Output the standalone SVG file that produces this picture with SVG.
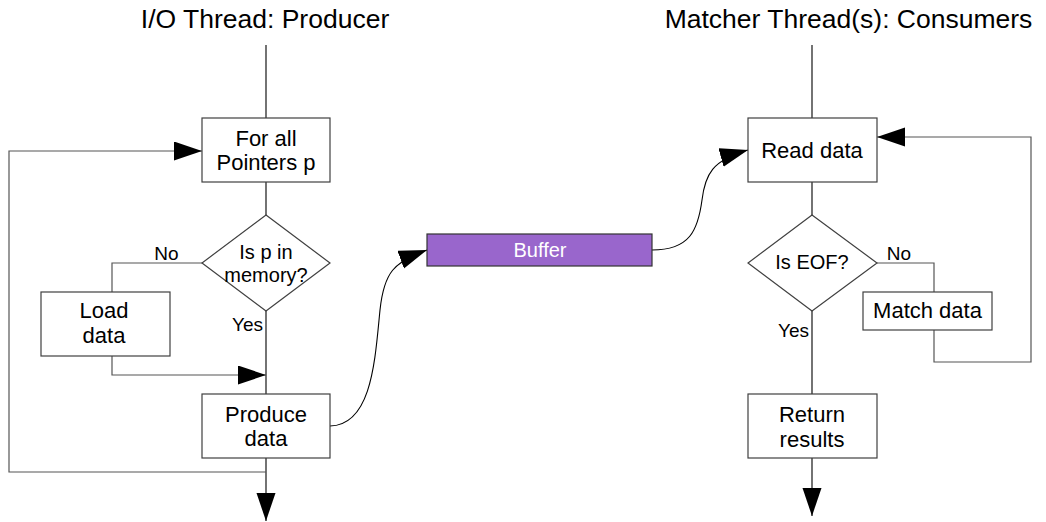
<svg xmlns="http://www.w3.org/2000/svg" width="1046" height="522" viewBox="0 0 1046 522">
<style>
text{font-family:"Liberation Sans",Arial,sans-serif;fill:#000;text-anchor:middle}
.title{font-size:26.5px}
.t{font-size:22px}
.d{font-size:20px}
.lbl{font-size:19px}
.box{fill:#fff;stroke:#404040;stroke-width:1.2}
.buf{fill:#9966cc;stroke:#333;stroke-width:1.2}
.ln{fill:none;stroke:#000;stroke-width:1.1}
.lg{fill:none;stroke:#555;stroke-width:1.2}
</style>
<defs>
<marker id="ah" markerUnits="userSpaceOnUse" markerWidth="30" markerHeight="20" refX="28" refY="9.5" orient="auto">
<path d="M0,0 L28,9.5 L0,19 z" fill="#000"/>
</marker>
</defs>
<rect width="1046" height="522" fill="#fff"/>
<text class="title" x="265" y="28">I/O Thread: Producer</text>
<text class="title" x="848.5" y="28">Matcher Thread(s): Consumers</text>
<g id="connectors">
<path class="ln" d="M266,45 V118"/>
<path class="ln" d="M266,182 V215"/>
<path class="ln" d="M266,311 V394"/>
<path class="ln" d="M266,458 V521" marker-end="url(#ah)"/>
<path class="lg" d="M202,263 H112 V292"/>
<path class="lg" d="M112,356 V375 H266" marker-end="url(#ah)"/>
<path class="lg" d="M266,472 H9 V151 H202" marker-end="url(#ah)"/>
<path class="ln" d="M330,426 C372,425 375,360 380,310 C384,272 394,262 427,250" marker-end="url(#ah)"/>
<path class="ln" d="M652,250 C690,250 698,230 702,200 C705,175 712,160 748,150" marker-end="url(#ah)"/>
<path class="ln" d="M812,45 V118"/>
<path class="ln" d="M812,182 V215"/>
<path class="ln" d="M812,311 V394"/>
<path class="ln" d="M812,458 V516" marker-end="url(#ah)"/>
<path class="lg" d="M877,263 H934 V292"/>
<path class="lg" d="M934,330 V362 H1031 V137 H877" marker-end="url(#ah)"/>
<text class="lbl" x="166.5" y="260">No</text>
<text class="lbl" x="247.5" y="331">Yes</text>
<text class="lbl" x="899" y="260">No</text>
<text class="lbl" x="793.5" y="337">Yes</text>
</g>
<g id="forall">
<rect class="box" x="202" y="118" width="128" height="64"/>
<text class="t" x="266" y="146">For all</text>
<text class="t" x="266" y="170">Pointers p</text>
</g>
<g id="inmemory">
<path class="box" d="M266,215 L330,263 L266,311 L202,263 z"/>
<text class="d" x="266" y="259">Is p in</text>
<text class="d" x="266" y="282">memory?</text>
</g>
<g id="loaddata">
<rect class="box" x="41" y="292" width="129" height="64"/>
<text class="t" x="104" y="318">Load</text>
<text class="t" x="104" y="343">data</text>
</g>
<g id="produce">
<rect class="box" x="202" y="394" width="128" height="64"/>
<text class="t" x="266" y="422">Produce</text>
<text class="t" x="266" y="446">data</text>
</g>
<g id="buffer">
<rect class="buf" x="427" y="234" width="225" height="32"/>
<text class="d" x="540" y="257" style="fill:#fff">Buffer</text>
</g>
<g id="readdata">
<rect class="box" x="748" y="118" width="129" height="64"/>
<text class="t" x="812" y="158">Read data</text>
</g>
<g id="eof">
<path class="box" d="M812,215 L877,263 L812,311 L748,263 z"/>
<text class="d" x="812" y="269">Is EOF?</text>
</g>
<g id="matchdata">
<rect class="box" x="863" y="292" width="129" height="38"/>
<text class="t" x="927.5" y="318">Match data</text>
</g>
<g id="return">
<rect class="box" x="748" y="394" width="129" height="64"/>
<text class="t" x="812" y="422">Return</text>
<text class="t" x="812" y="447">results</text>
</g>
</svg>
